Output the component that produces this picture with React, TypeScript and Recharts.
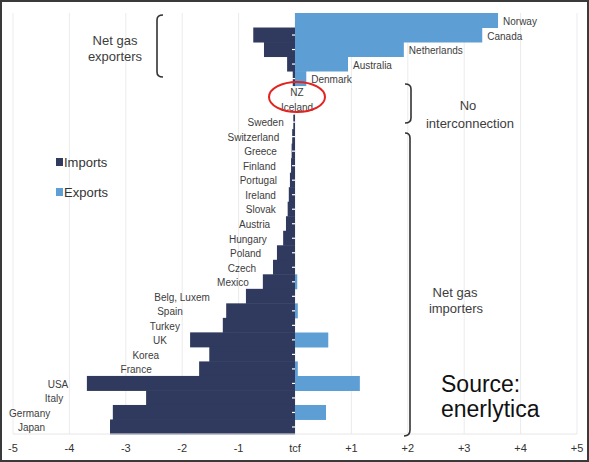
import React from "react";
import { Bar, BarChart, CartesianGrid, Legend, XAxis, YAxis } from "recharts";

// gas trade by country, tcf (imports shown as negative)
const countries = [
  "Norway", "Canada", "Netherlands", "Australia", "Denmark", "NZ", "Iceland",
  "Sweden", "Switzerland", "Greece", "Finland", "Portugal", "Ireland", "Slovak",
  "Austria", "Hungary", "Poland", "Czech", "Mexico", "Belg, Luxem", "Spain",
  "Turkey", "UK", "Korea", "France", "USA", "Italy", "Germany", "Japan",
];
const imports = [
  0, -0.74, -0.55, -0.14, -0.04, 0, 0,
  -0.03, -0.05, -0.06, -0.07, -0.09, -0.11, -0.13,
  -0.16, -0.21, -0.32, -0.39, -0.57, -0.87, -1.22,
  -1.28, -1.86, -1.52, -1.7, -3.69, -2.64, -3.23, -3.28,
];
const exports = [
  3.6, 3.32, 1.93, 0.94, 0.2, 0, 0,
  0, 0, 0, 0, 0, 0, 0,
  0, 0, 0, 0, 0.04, 0, 0.05,
  0, 0.59, 0, 0.05, 1.15, 0, 0.55, 0,
];
const tcfTicks = [-5, -4, -3, -2, -1, 0, 1, 2, 3, 4, 5];

// where each importer's name ends (tcf), staggered down the staircase
const nameEnds: (number | null)[] = [
  null, null, null, null, null, null, null,
  -0.2, -0.28, -0.32, -0.34, -0.32, -0.34, -0.34,
  -0.44, -0.5, -0.6, -0.69, -0.82, -1.51, -1.99,
  -2.04, -2.27, -2.41, -2.54, -4.02, -4.11, -4.34, -4.43,
];

const W = 589;
const H = 462;
const margin = { top: 13, right: 12, bottom: 0, left: 12 };
const DOMAIN: [number, number] = [-5, 5];
const FONT = "'Liberation Sans', Arial, sans-serif";
const NAVY = "#2f3a5e";
const BLUE = "#5d9fd5";
const SERIES_ORDER = ["Imports", "Exports"];
const Y_AXIS_W = 1;

const plotLeft = margin.left + Y_AXIS_W;
const plotW = W - plotLeft - margin.right;
const toPx = (v: number) => plotLeft + ((v - DOMAIN[0]) / (DOMAIN[1] - DOMAIN[0])) * plotW;

const rows = countries.map((country, i) => ({
  country,
  imports: imports[i],
  exports: exports[i],
}));

const tickText = (v: number) => (v === 0 ? "tcf" : v > 0 ? `+${v}` : `${v}`);

// country names sit next to their bars rather than in a column
function CountryTick(props: any) {
  const name: string = props.payload?.value;
  const i = countries.indexOf(name);
  const cy: number = props.y;
  const imp = imports[i];
  const exp = exports[i];

  let x: number;
  let anchor: "start" | "middle" | "end";
  let dy = 1;
  if (exp + imp > 0) {
    x = toPx(exp) + 5;
    anchor = "start";
    dy = 1.5;
  } else if (nameEnds[i] === null) {
    x = toPx(0) + 2;
    anchor = "middle";
    dy = 0;
  } else {
    x = toPx(nameEnds[i] as number);
    anchor = "end";
  }

  return (
    <text
      x={x}
      y={cy + dy}
      textAnchor={anchor}
      dominantBaseline="central"
      fontFamily={FONT}
      fontSize={10}
      fill="#3d3d3d"
    >
      {name}
    </text>
  );
}

// import bar plus a small white mark on the zero line
function ImportBar(props: any) {
  const cy = props.y + props.height / 2;
  const zero = toPx(0);
  return (
    <g>
      <rect
        x={Math.min(props.x, props.x + props.width)}
        y={props.y}
        width={Math.abs(props.width)}
        height={props.height}
        fill={NAVY}
      />
      <line x1={zero - 3} x2={zero} y1={cy} y2={cy} stroke="#fff" strokeWidth={1.2} />
    </g>
  );
}

function LegendBox(props: any) {
  const items = [...(props.payload ?? [])].sort(
    (a: any, b: any) => SERIES_ORDER.indexOf(a.value) - SERIES_ORDER.indexOf(b.value)
  );
  return (
    <div style={{ fontFamily: FONT, fontSize: 13, color: "#333" }}>
      {items.map((p: any) => (
        <div key={p.value} style={{ display: "flex", alignItems: "center", height: 16, marginBottom: 14 }}>
          <span style={{ width: 7, height: 8, background: p.color, marginRight: 1, display: "inline-block" }} />
          <span>{p.value}</span>
        </div>
      ))}
    </div>
  );
}

function Notes() {
  const txt = { fontFamily: FONT, fill: "#3d3d3d", textAnchor: "middle" as const };
  return (
    <svg width={W} height={H} style={{ position: "absolute", left: 0, top: 0, pointerEvents: "none" }}>
      <g fill="none" stroke="#333" strokeWidth={1.6}>
        <path d="M163,15 Q157,15 157,20 L157,72 Q157,77 163,77" />
        <path d="M405,84 Q411,84 411,89 L411,118 Q411,123 405,123" />
        <path d="M405,133 Q410,133 410,138 L410,430 Q410,436 404,436" />
      </g>
      <text {...txt} x={115} y={45} fontSize={13}>Net gas</text>
      <text {...txt} x={115} y={61} fontSize={13}>exporters</text>
      <text {...txt} x={468} y={110} fontSize={13}>No</text>
      <text {...txt} x={470} y={128} fontSize={13}>interconnection</text>
      <text {...txt} x={455} y={297} fontSize={13}>Net gas</text>
      <text {...txt} x={456} y={313} fontSize={13}>importers</text>
      <text x={441} y={392} fontFamily={FONT} fontSize={23} fill="#111">Source:</text>
      <text x={441} y={417} fontFamily={FONT} fontSize={23} fill="#111">enerlytica</text>
      <ellipse cx={297} cy={97} rx={28} ry={15} fill="none" stroke="#e3231f" strokeWidth={2} />
    </svg>
  );
}

export default function App() {
  return (
    <div style={{ position: "absolute", left: 0, top: 0, width: W, height: H, background: "#fff" }}>
      <BarChart
        width={W}
        height={H}
        data={rows}
        layout="vertical"
        margin={margin}
        barCategoryGap={0}
        stackOffset="sign"
      >
        <CartesianGrid horizontal={false} stroke="#ebebeb" />
        <XAxis
          type="number"
          domain={DOMAIN}
          ticks={tcfTicks}
          tickFormatter={tickText}
          height={28}
          tickLine={false}
          tickMargin={4}
          axisLine={{ stroke: "#e6e6e6" }}
          tick={{ fontFamily: FONT, fontSize: 11, fill: "#333" }}
          interval={0}
        />
        <YAxis
          type="category"
          dataKey="country"
          width={Y_AXIS_W}
          axisLine={false}
          tickLine={false}
          interval={0}
          tick={(p: any) => <CountryTick {...p} />}
        />
        <Legend
          layout="vertical"
          align="center"
          verticalAlign="middle"
          content={<LegendBox />}
          wrapperStyle={{ position: "absolute", left: 56, top: 154, width: 80 }}
        />
        <Bar
          dataKey="imports"
          name="Imports"
          stackId="trade"
          fill={NAVY}
          isAnimationActive={false}
          shape={(p: any) => <ImportBar {...p} />}
        />
        <Bar dataKey="exports" name="Exports" stackId="trade" fill={BLUE} isAnimationActive={false} />
      </BarChart>
      <Notes />
      <div
        style={{
          position: "absolute",
          inset: 0,
          border: "2px solid #3a3a3a",
          pointerEvents: "none",
        }}
      />
    </div>
  );
}
